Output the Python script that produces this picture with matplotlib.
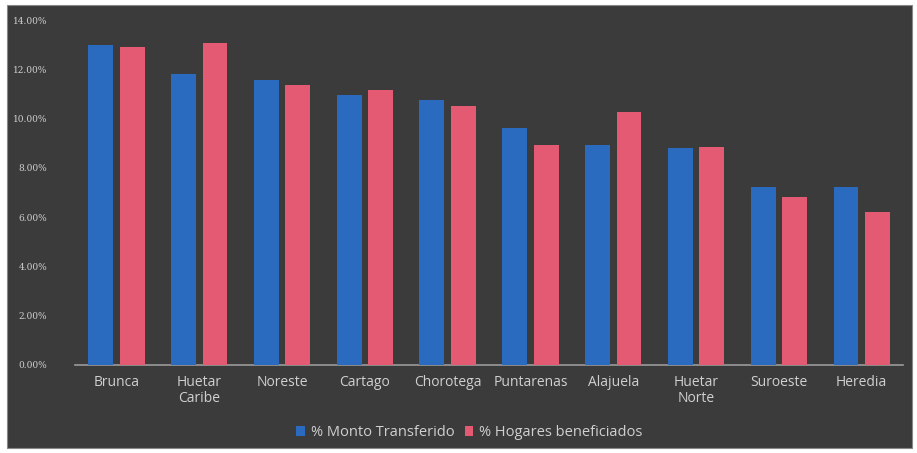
import numpy as np
import matplotlib.pyplot as plt
from matplotlib.patches import Rectangle
from matplotlib.ticker import FuncFormatter

regiones = ["Brunca", "Huetar\nCaribe", "Noreste", "Cartago", "Chorotega",
            "Puntarenas", "Alajuela", "Huetar\nNorte", "Suroeste", "Heredia"]
monto = [13.0, 11.8, 11.57, 10.96, 10.75, 9.62, 8.93, 8.8, 7.22, 7.22]
hogares = [12.9, 13.07, 11.36, 11.16, 10.5, 8.93, 10.27, 8.85, 6.82, 6.21]
serie_nombres = ["% Monto Transferido", "% Hogares beneficiados"]

bg = "#3b3b3b"
azul = "#2a6bbf"
rosa = "#e35a72"
txt = "#d0d0d0"

fig = plt.figure(figsize=(9.17, 4.53), dpi=100)
fig.patch.set_facecolor("white")
fig.patches.append(Rectangle((7 / 917, 5 / 453), 905 / 917, 443 / 453,
                             transform=fig.transFigure, facecolor=bg,
                             edgecolor="#888888", lw=0.8, zorder=-5))

ax = fig.add_axes([0.0818, 0.1943, 0.903, 0.7615])
ax.set_facecolor(bg)

x = np.arange(len(regiones))
w = 0.30
b1 = ax.bar(x - 0.19, monto, w, color=azul, label=serie_nombres[0], zorder=3)
b2 = ax.bar(x + 0.19, hogares, w, color=rosa, label=serie_nombres[1], zorder=3)

ax.set_ylim(0, 14)
ax.set_xlim(-0.5, len(regiones) - 0.5)
ax.set_yticks(np.arange(0, 14.01, 2))
ax.yaxis.set_major_formatter(FuncFormatter(lambda v, p: f"{v:.2f}%"))
ax.set_xticks(x)
ax.set_xticklabels(regiones, color=txt, fontsize=10, family="Open Sans",
                   linespacing=1.1)
for lab in ax.get_yticklabels():
    lab.set_color(txt)
    lab.set_fontsize(6.5)
    lab.set_family("DejaVu Serif")
ax.tick_params(axis="both", length=0)
ax.tick_params(axis="y", pad=20)
ax.tick_params(axis="x", pad=7)

for s in ["top", "right", "left"]:
    ax.spines[s].set_visible(False)
ax.spines["bottom"].set_color("#9a9a9a")
ax.spines["bottom"].set_linewidth(1.2)

leg = fig.legend(handles=[b1, b2], loc="center", bbox_to_anchor=(0.512, 0.045),
                 ncol=2, frameon=False, handlelength=0.6,
                 handleheight=0.6, handletextpad=0.4, columnspacing=0.7,
                 prop={"family": "Open Sans", "size": 10.5})
for t in leg.get_texts():
    t.set_color(txt)

fig.savefig("out.png", dpi=100, facecolor=fig.get_facecolor())
